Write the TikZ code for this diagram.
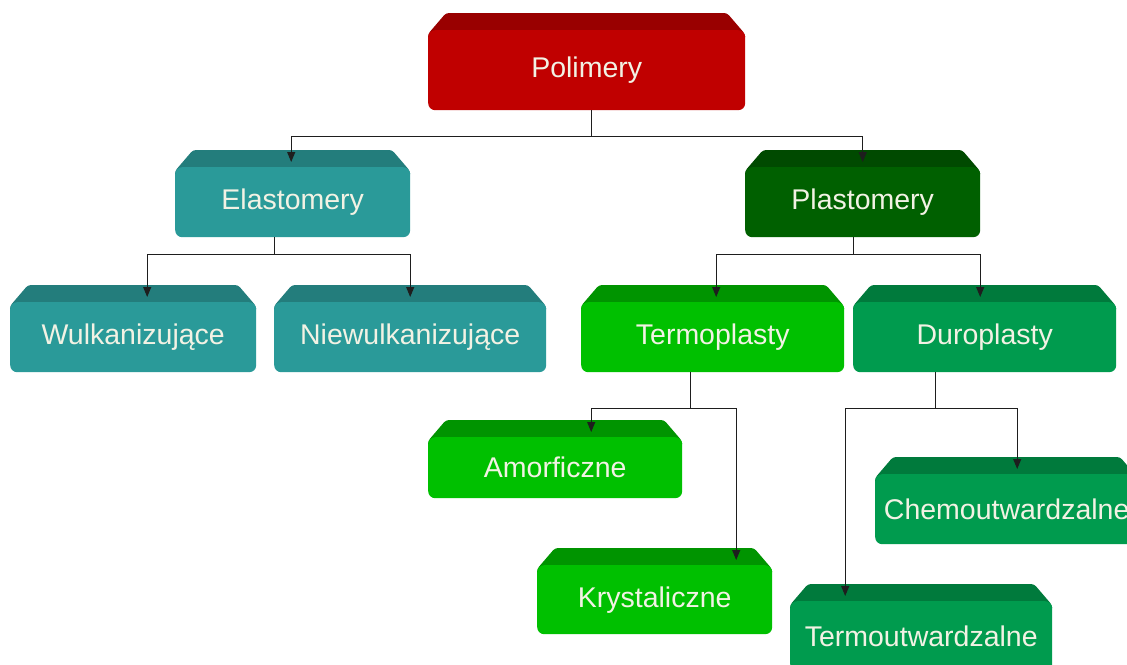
\documentclass[tikz,border=0pt]{standalone}
\usepackage{fontspec}
\setmainfont{Liberation Sans}
\usetikzlibrary{arrows.meta}
\definecolor{redB}{HTML}{C00000}
\definecolor{redD}{HTML}{990000}
\definecolor{tealB}{HTML}{2A9A99}
\definecolor{tealD}{HTML}{237D7C}
\definecolor{dgB}{HTML}{006000}
\definecolor{dgD}{HTML}{004A00}
\definecolor{bgB}{HTML}{00C000}
\definecolor{bgD}{HTML}{009400}
\definecolor{mgB}{HTML}{009B4E}
\definecolor{mgD}{HTML}{007A3C}
\definecolor{txt}{HTML}{F2F2E4}
\definecolor{linec}{HTML}{1E1E1E}
\tikzset{
  boxbody/.style={rounded corners=7pt, inner sep=0pt, text=txt, font=\fontsize{28.5}{31}\selectfont},
  conn/.style={draw=linec, line width=1.1pt},
  arr/.style={conn, -{Triangle[width=8pt,length=10pt]}},
}
\newcommand\pbox[8]{%
  \fill[#7, rounded corners=3pt] (#2+18,-#3) -- (#4-18,-#3) -- (#4,-#3-21) -- (#4,-#3-26) -- (#2,-#3-26) -- (#2,-#3-21) -- cycle;
  \node[boxbody, fill=#6, minimum width=#4-#2, minimum height=#5-#3-17, anchor=north west] (#1) at (#2,-#3-17) {#8};
}
\begin{document}
\begin{tikzpicture}[x=1pt,y=1pt]
\useasboundingbox (0,0) rectangle (1127,-664);
\fill[white] (0,0) rectangle (1127,-664);
\clip (0,0) rectangle (1127,-664);
\pbox{pol}{428}{13}{745}{110}{redB}{redD}{Polimery}
\pbox{ela}{175}{150}{410}{237}{tealB}{tealD}{Elastomery}
\pbox{pla}{745}{150}{980}{237}{dgB}{dgD}{Plastomery}
\pbox{wul}{10}{285}{256}{372}{tealB}{tealD}{Wulkanizujące}
\pbox{nie}{274}{285}{546}{372}{tealB}{tealD}{Niewulkanizujące}
\pbox{ter}{581}{285}{844}{372}{bgB}{bgD}{Termoplasty}
\pbox{dur}{853}{285}{1116}{372}{mgB}{mgD}{Duroplasty}
\pbox{amo}{428}{420}{682}{498}{bgB}{bgD}{Amorficzne}
\pbox{kry}{537}{548}{772}{634}{bgB}{bgD}{Krystaliczne}
\pbox{che}{875}{457}{1138}{544}{mgB}{mgD}{Chemoutwardzalne}
\pbox{tmo}{790}{584}{1052}{671}{mgB}{mgD}{Termoutwardzalne}
% connectors
\draw[arr] ([xshift=5pt]pol.south) -- ++(0,-26) -| ([xshift=-1.5pt,yshift=5pt]ela.north);
\draw[arr] ([xshift=5pt]pol.south) -- ++(0,-26) -| ([yshift=5pt]pla.north);
\draw[arr] ([xshift=-18.5pt]ela.south) -- ++(0,-17) -| ([xshift=14pt,yshift=5pt]wul.north);
\draw[arr] ([xshift=-18.5pt]ela.south) -- ++(0,-17) -| ([yshift=5pt]nie.north);
\draw[arr] ([xshift=-9.5pt]pla.south) -- ++(0,-17) -| ([xshift=3.5pt,yshift=5pt]ter.north);
\draw[arr] ([xshift=-9.5pt]pla.south) -- ++(0,-17) -| ([xshift=-4.5pt,yshift=5pt]dur.north);
\draw[arr] ([xshift=-22.5pt]ter.south) -- ++(0,-36) -| ([xshift=36pt,yshift=5pt]amo.north);
\draw[arr] ([xshift=-22.5pt]ter.south) -- ++(0,-36) -| ([xshift=81.5pt,yshift=5pt]kry.north);
\draw[arr] ([xshift=-49.5pt]dur.south) -- ++(0,-36) -| ([xshift=10.5pt,yshift=5pt]che.north);
\draw[arr] ([xshift=-49.5pt]dur.south) -- ++(0,-36) -| ([xshift=-76pt,yshift=5pt]tmo.north);
\end{tikzpicture}
\end{document}
